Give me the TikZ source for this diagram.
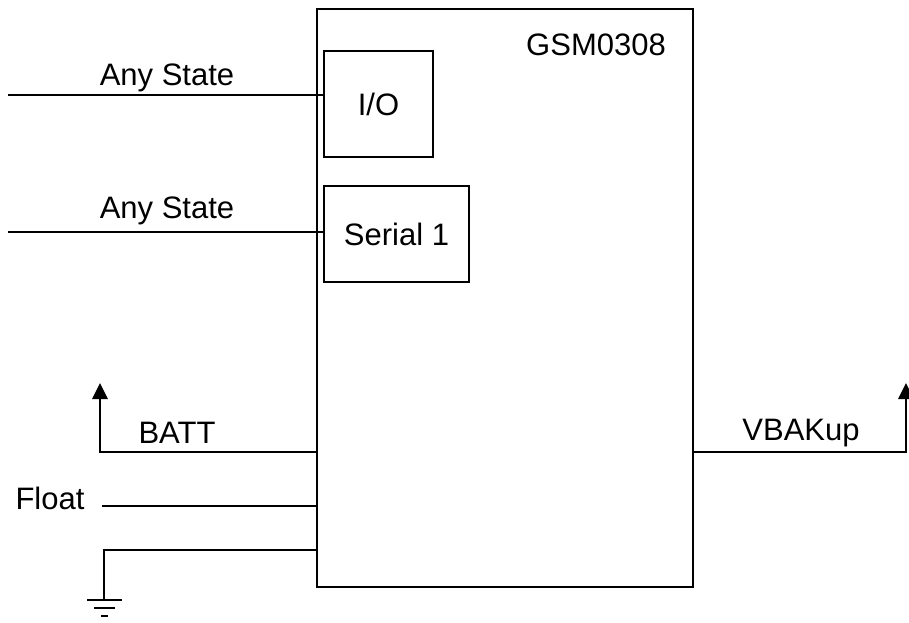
\documentclass[tikz,border=0pt]{standalone}
\usepackage{fontspec}
\setmainfont{Liberation Sans}
\usetikzlibrary{positioning}
\usetikzlibrary{arrows.meta}

\begin{document}
\begin{tikzpicture}[x=1pt, y=-1pt, font=\fontsize{31}{33}\selectfont,
  wire/.style={line width=2.8pt},
  blk/.style={draw, line width=2pt, anchor=north west, inner sep=0pt},
  lbl/.style={inner sep=0pt}]
\useasboundingbox (0,0) rectangle (909,622);

% ---- main block ----
\node[blk, minimum width=376pt, minimum height=578pt] (gsm) at (316,8) {};
\node[lbl] (name) at (596,45) {GSM0308};

% ---- inner blocks ----
\node[blk, minimum width=109pt, minimum height=106pt] (io) at (323,50) {I/O};
\node[blk, minimum width=145pt, minimum height=96pt] (ser) at (323,185) {Serial 1};

% ---- inputs ----
\coordinate (ioin) at (8,95);
\coordinate (serin) at (8,232);
\draw[wire] (ioin) -- (ioin -| io.west);
\draw[wire] (serin) -- (serin -| ser.west);
\node[lbl] (ioany) at (167,78) {Any State};
\node[lbl] (serany) at (167,211) {Any State};

% ---- BATT ----
\coordinate (battc) at (100,452);
\coordinate (batt) at (100,383);
\draw[wire, -{Triangle[length=16pt,width=15pt]}] (battc -| gsm.west) -- (battc) -- (batt);
\node[lbl] (battl) at (177,433) {BATT};

% ---- Float ----
\coordinate (flt) at (102,506);
\draw[wire] (flt) -- (flt -| gsm.west);
\node[lbl] (fltl) at (50,498) {Float};

% ---- ground ----
\coordinate (gndc) at (104,550);
\coordinate (gnd) at (104,600);
\draw[wire] (gndc -| gsm.west) -- (gndc) -- (gnd);
\draw[wire] ([xshift=-17pt]gnd) -- ([xshift=18pt]gnd);
\draw[wire] ([xshift=-10pt,yshift=-8pt]gnd) -- ([xshift=11pt,yshift=-8pt]gnd);
\draw[wire] ([xshift=-3pt,yshift=-16pt]gnd) -- ([xshift=4pt,yshift=-16pt]gnd);

% ---- VBAKup ----
\coordinate (vbc) at (906,452);
\coordinate (vb) at (906,383);
\draw[wire, -{Triangle[length=16pt,width=15pt]}] (vbc -| gsm.east) -- (vbc) -- (vb);
\node[lbl] (vbl) at (801,433) {VBAKup};

\end{tikzpicture}
\end{document}
